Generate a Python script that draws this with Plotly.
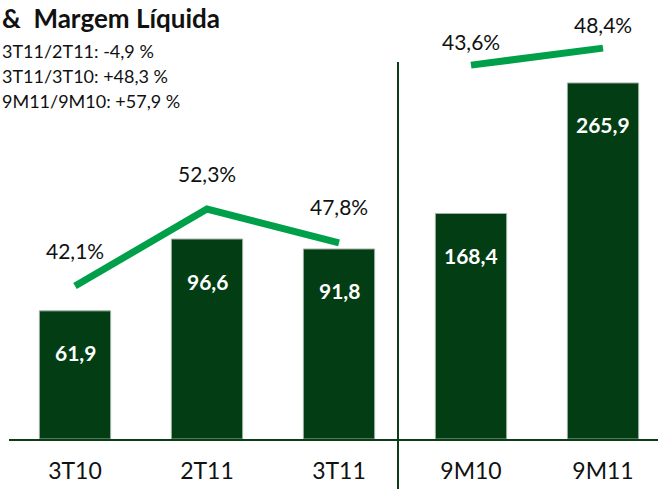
import plotly.graph_objects as go

# ---- data ----
categories = ["3T10", "2T11", "3T11", "9M10", "9M11"]
quarter_cats = ["3T10", "2T11", "3T11"]
quarter_profit = [61.9, 96.6, 91.8]
quarter_margin = [42.1, 52.3, 47.8]
ytd_cats = ["9M10", "9M11"]
ytd_profit = [168.4, 265.9]
ytd_margin = [43.6, 48.4]
title_text = "&  Margem Líquida"
notes = ["3T11/2T11: -4,9 %", "3T11/3T10: +48,3 %", "9M11/9M10: +57,9 %"]

def fmt(v, d=1):
    return f"{v:.{d}f}".replace(".", ",")

BAR = "#033d14"
LINE = "#00a04a"
AX = "#0b3d16"
FONT = "Lato"

W, H = 658, 489
PLOT_H = 439

fig = go.Figure()
fig.add_bar(x=quarter_cats, y=quarter_profit, yaxis="y", marker_color=BAR,
            marker_line=dict(color="#9fb3a3", width=1), width=0.54, showlegend=False)
fig.add_bar(x=ytd_cats, y=ytd_profit, yaxis="y3", marker_color=BAR,
            marker_line=dict(color="#9fb3a3", width=1), width=0.54, showlegend=False)
fig.add_scatter(x=quarter_cats, y=quarter_margin, yaxis="y2", mode="lines",
                line=dict(color=LINE, width=7), showlegend=False)
fig.add_scatter(x=ytd_cats, y=ytd_margin, yaxis="y4", mode="lines",
                line=dict(color=LINE, width=7), showlegend=False)

ann = []
for c, v in zip(quarter_cats, quarter_profit):
    ann.append(dict(x=c, y=v, xref="x", yref="y", text=f"<b>{fmt(v)}</b>", showarrow=False,
                    yshift=-42, font=dict(family=FONT, size=21, color="white")))
for c, v in zip(ytd_cats, ytd_profit):
    ann.append(dict(x=c, y=v, xref="x", yref="y3", text=f"<b>{fmt(v)}</b>", showarrow=False,
                    yshift=-42, font=dict(family=FONT, size=21, color="white")))
for c, v in zip(quarter_cats, quarter_margin):
    ann.append(dict(x=c, y=v, xref="x", yref="y2", text=f"{fmt(v)}%", showarrow=False,
                    yshift=36, font=dict(family=FONT, size=21, color="#111")))
for c, v in zip(ytd_cats, ytd_margin):
    ann.append(dict(x=c, y=v, xref="x", yref="y4", text=f"{fmt(v)}%", showarrow=False,
                    yshift=24, font=dict(family=FONT, size=21, color="#111")))

def py(pix):
    return (PLOT_H - pix) / PLOT_H

ann.append(dict(x=0, y=py(18), xref="paper", yref="paper", xanchor="left", yanchor="middle",
                text=f"<b>{title_text}</b>", showarrow=False,
                font=dict(family=FONT, size=26, color="#111")))
for i, t in enumerate(notes):
    ann.append(dict(x=0, y=py(51 + 25 * i), xref="paper", yref="paper", xanchor="left",
                    yanchor="middle", text=t, showarrow=False,
                    font=dict(family=FONT, size=18, color="#111")))

x0 = 9 / W
xmax = (W - 9) / 132 - 0.5
fig.update_layout(
    width=W, height=H,
    margin=dict(l=0, r=0, t=0, b=H - PLOT_H),
    paper_bgcolor="white", plot_bgcolor="white",
    barmode="overlay",
    xaxis=dict(domain=[x0, 1], type="category", categoryorder="array", categoryarray=categories,
               range=[-0.5, xmax], showline=True, linecolor=AX, linewidth=2, showgrid=False,
               ticks="outside", ticklen=10, tickcolor="rgba(0,0,0,0)",
               tickfont=dict(family=FONT, size=23, color="#111")),
    yaxis=dict(range=[0, PLOT_H / 2.07], visible=False),
    yaxis2=dict(range=[21.84, 79.98], overlaying="y", visible=False),
    yaxis3=dict(range=[0, PLOT_H / 1.339], overlaying="y", visible=False),
    yaxis4=dict(range=[-62, 62], overlaying="y", visible=False),
    annotations=ann,
    shapes=[dict(type="line", xref="x", yref="paper", x0=2.447, x1=2.447,
                 y0=py(489), y1=py(62), line=dict(color=AX, width=2))],
)

fig.write_html("out.html", config={"displayModeBar": False},
               post_script="document.body.style.margin='0px';")
